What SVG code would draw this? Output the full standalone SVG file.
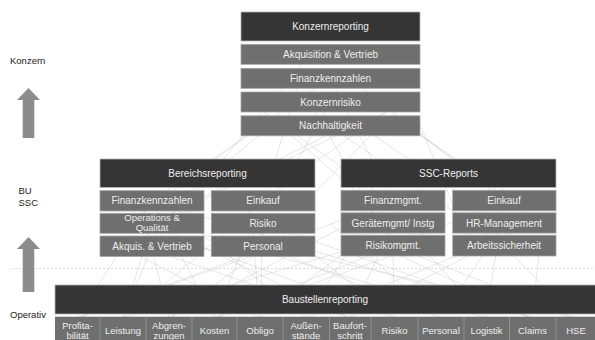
<svg xmlns="http://www.w3.org/2000/svg" width="595" height="340" viewBox="0 0 595 340">
<style>
.dk{fill:#353535;stroke:#b5b5b5;stroke-width:0.8}
.md{fill:#6f6f6f;stroke:#a5a5a5;stroke-width:0.8}
.t{font-family:"Liberation Sans",Arial,sans-serif;font-size:10px;fill:#eeeeee;text-anchor:middle}
.ts{font-family:"Liberation Sans",Arial,sans-serif;font-size:9.5px;fill:#eeeeee;text-anchor:middle}
.lb{font-family:"Liberation Sans",Arial,sans-serif;font-size:9.5px;fill:#222}
.ar{fill:#8c8c8c}
.cn line{stroke:#cdcdcd;stroke-width:0.5}
.dv{stroke:#9a9a9a;stroke-width:0.8}
</style>
<rect width="595" height="340" fill="#ffffff"/>
<line x1="11" y1="268.5" x2="595" y2="268.5" stroke="#c4c4c4" stroke-width="0.6" stroke-dasharray="2,2"/>
<g id="labels">
<text class="lb" x="10" y="64">Konzern</text>
<text class="lb" x="18.5" y="194">BU</text>
<text class="lb" x="18.5" y="206">SSC</text>
<text class="lb" x="10" y="318">Operativ</text>
<path class="ar" d="M17,100 L28.5,88 L40,100 L34.3,100 L34.3,138 L22.7,138 L22.7,100 Z"/>
<path class="ar" d="M17,249 L28.5,237 L40,249 L34.3,249 L34.3,292 L22.7,292 L22.7,249 Z"/>
</g>
<g id="connectors" class="cn">
<line x1="77" y1="318" x2="152" y2="201"/>
<line x1="78" y1="318" x2="393" y2="201"/>
<line x1="77" y1="318" x2="280" y2="246"/>
<line x1="123" y1="318" x2="152" y2="223"/>
<line x1="123" y1="318" x2="170" y2="201"/>
<line x1="124" y1="318" x2="263" y2="201"/>
<line x1="123" y1="318" x2="360" y2="246"/>
<line x1="169" y1="318" x2="140" y2="201"/>
<line x1="169" y1="318" x2="393" y2="201"/>
<line x1="169" y1="318" x2="300" y2="223"/>
<line x1="214" y1="318" x2="152" y2="201"/>
<line x1="214" y1="318" x2="263" y2="201"/>
<line x1="215" y1="318" x2="504" y2="201"/>
<line x1="214" y1="318" x2="420" y2="246"/>
<line x1="260" y1="318" x2="250" y2="201"/>
<line x1="260" y1="318" x2="410" y2="201"/>
<line x1="260" y1="318" x2="263" y2="223"/>
<line x1="260" y1="318" x2="120" y2="246"/>
<line x1="306" y1="318" x2="160" y2="201"/>
<line x1="306" y1="318" x2="380" y2="201"/>
<line x1="306" y1="318" x2="480" y2="246"/>
<line x1="350" y1="318" x2="152" y2="223"/>
<line x1="350" y1="318" x2="140" y2="246"/>
<line x1="350" y1="318" x2="393" y2="223"/>
<line x1="350" y1="318" x2="530" y2="223"/>
<line x1="394" y1="318" x2="275" y2="223"/>
<line x1="394" y1="318" x2="393" y2="246"/>
<line x1="394" y1="318" x2="200" y2="246"/>
<line x1="441" y1="318" x2="263" y2="246"/>
<line x1="441" y1="318" x2="504" y2="223"/>
<line x1="441" y1="318" x2="330" y2="223"/>
<line x1="486" y1="318" x2="400" y2="223"/>
<line x1="486" y1="318" x2="504" y2="201"/>
<line x1="486" y1="318" x2="165" y2="223"/>
<line x1="532" y1="318" x2="263" y2="223"/>
<line x1="532" y1="318" x2="380" y2="246"/>
<line x1="532" y1="318" x2="152" y2="201"/>
<line x1="532" y1="318" x2="540" y2="246"/>
<line x1="575" y1="318" x2="504" y2="246"/>
<line x1="575" y1="318" x2="393" y2="246"/>
<line x1="575" y1="318" x2="270" y2="246"/>
<line x1="152" y1="201" x2="330" y2="78"/>
<line x1="152" y1="246" x2="310" y2="54"/>
<line x1="152" y1="223" x2="345" y2="126"/>
<line x1="263" y1="223" x2="330" y2="102"/>
<line x1="263" y1="246" x2="380" y2="126"/>
<line x1="263" y1="201" x2="300" y2="78"/>
<line x1="180" y1="201" x2="270" y2="126"/>
<line x1="393" y1="201" x2="330" y2="78"/>
<line x1="393" y1="246" x2="310" y2="102"/>
<line x1="504" y1="246" x2="330" y2="126"/>
<line x1="504" y1="223" x2="360" y2="126"/>
<line x1="393" y1="223" x2="280" y2="126"/>
<line x1="504" y1="201" x2="350" y2="78"/>
<line x1="520" y1="201" x2="405" y2="126"/>
<line x1="470" y1="246" x2="418" y2="120"/>
<line x1="230" y1="223" x2="400" y2="102"/>
<line x1="130" y1="223" x2="260" y2="126"/>
<line x1="420" y1="223" x2="250" y2="102"/>
<line x1="540" y1="223" x2="415" y2="130"/>
<line x1="200" y1="201" x2="390" y2="110"/>
</g>
<g id="konzernreporting">
<rect class="dk" x="241" y="12" width="179" height="29"/>
<text class="t" x="330.5" y="29.5">Konzernreporting</text>
</g>
<g id="k-akquisition">
<rect class="md" x="241" y="44.3" width="179" height="20"/>
<text class="t" x="330.5" y="57.8">Akquisition &amp; Vertrieb</text>
</g>
<g id="k-finanzkennzahlen">
<rect class="md" x="241" y="68.3" width="179" height="20"/>
<text class="t" x="330.5" y="81.8">Finanzkennzahlen</text>
</g>
<g id="k-konzernrisiko">
<rect class="md" x="241" y="92" width="179" height="20"/>
<text class="t" x="330.5" y="105.5">Konzernrisiko</text>
</g>
<g id="k-nachhaltigkeit">
<rect class="md" x="241" y="115.8" width="179" height="20"/>
<text class="t" x="330.5" y="129.3">Nachhaltigkeit</text>
</g>
<g id="bereichsreporting">
<rect class="dk" x="100" y="159" width="215" height="28.5"/>
<text class="t" x="207.5" y="176.5">Bereichsreporting</text>
</g>
<g id="b-finanzkennzahlen">
<rect class="md" x="100" y="190.7" width="104" height="20.3"/>
<text class="t" x="152" y="204.4">Finanzkennzahlen</text>
</g>
<g id="b-operations">
<rect class="md" x="100" y="213.3" width="104" height="20"/>
<text class="ts" x="152" y="220.8">Operations &amp;</text>
<text class="ts" x="152" y="231">Qualität</text>
</g>
<g id="b-akquis">
<rect class="md" x="100" y="236" width="104" height="20.5"/>
<text class="t" x="152" y="249.8">Akquis. &amp; Vertrieb</text>
</g>
<g id="b-einkauf">
<rect class="md" x="211.3" y="190.7" width="103.7" height="20.3"/>
<text class="t" x="263" y="204.4">Einkauf</text>
</g>
<g id="b-risiko">
<rect class="md" x="211.3" y="213.3" width="103.7" height="20"/>
<text class="t" x="263" y="226.8">Risiko</text>
</g>
<g id="b-personal">
<rect class="md" x="211.3" y="236" width="103.7" height="20.5"/>
<text class="t" x="263" y="249.8">Personal</text>
</g>
<g id="ssc-reports">
<rect class="dk" x="341" y="159" width="215" height="28.5"/>
<text class="t" x="448.5" y="176.5">SSC-Reports</text>
</g>
<g id="s-finanzmgmt">
<rect class="md" x="341" y="190.3" width="104" height="20.5"/>
<text class="t" x="393" y="204.1">Finanzmgmt.</text>
</g>
<g id="s-geraetemgmt">
<rect class="md" x="341" y="212.8" width="104" height="20.3"/>
<text class="t" x="393" y="226.5">Gerätemgmt/ Instg</text>
</g>
<g id="s-risikomgmt">
<rect class="md" x="341" y="235.2" width="104" height="20.8"/>
<text class="t" x="393" y="249.2">Risikomgmt.</text>
</g>
<g id="s-einkauf">
<rect class="md" x="452.7" y="190.3" width="103.3" height="20.5"/>
<text class="t" x="504" y="204.1">Einkauf</text>
</g>
<g id="s-hrmanagement">
<rect class="md" x="452.7" y="212.8" width="103.3" height="20.3"/>
<text class="t" x="504" y="226.5">HR-Management</text>
</g>
<g id="s-arbeitssicherheit">
<rect class="md" x="452.7" y="235.2" width="103.3" height="20.8"/>
<text class="t" x="504" y="249.2">Arbeitssicherheit</text>
</g>
<g id="baustellenreporting">
<rect class="dk" x="55" y="285" width="542" height="29"/>
<text class="t" x="325" y="302.5">Baustellenreporting</text>
</g>
<g id="baustellen-cells">
<rect fill="#6f6f6f" x="55" y="316.7" width="542" height="24"/>
<line class="dv" x1="100" y1="316.7" x2="100" y2="340"/>
<line class="dv" x1="146" y1="316.7" x2="146" y2="340"/>
<line class="dv" x1="192" y1="316.7" x2="192" y2="340"/>
<line class="dv" x1="237" y1="316.7" x2="237" y2="340"/>
<line class="dv" x1="283" y1="316.7" x2="283" y2="340"/>
<line class="dv" x1="329.5" y1="316.7" x2="329.5" y2="340"/>
<line class="dv" x1="371" y1="316.7" x2="371" y2="340"/>
<line class="dv" x1="418" y1="316.7" x2="418" y2="340"/>
<line class="dv" x1="464" y1="316.7" x2="464" y2="340"/>
<line class="dv" x1="509.5" y1="316.7" x2="509.5" y2="340"/>
<line class="dv" x1="556" y1="316.7" x2="556" y2="340"/>
<text class="ts" x="77.5" y="328.5">Profita-</text>
<text class="ts" x="77.5" y="338.5">bilität</text>
<text class="ts" x="123" y="334">Leistung</text>
<text class="ts" x="169" y="328.5">Abgren-</text>
<text class="ts" x="169" y="338.5">zungen</text>
<text class="ts" x="214.5" y="334">Kosten</text>
<text class="ts" x="260" y="334">Obligo</text>
<text class="ts" x="306" y="328.5">Außen-</text>
<text class="ts" x="306" y="338.5">stände</text>
<text class="ts" x="350" y="328.5">Baufort-</text>
<text class="ts" x="350" y="338.5">schritt</text>
<text class="ts" x="394.5" y="334">Risiko</text>
<text class="ts" x="441" y="334">Personal</text>
<text class="ts" x="486.5" y="334">Logistik</text>
<text class="ts" x="532.5" y="334">Claims</text>
<text class="ts" x="576" y="334">HSE</text>
</g>
</svg>
